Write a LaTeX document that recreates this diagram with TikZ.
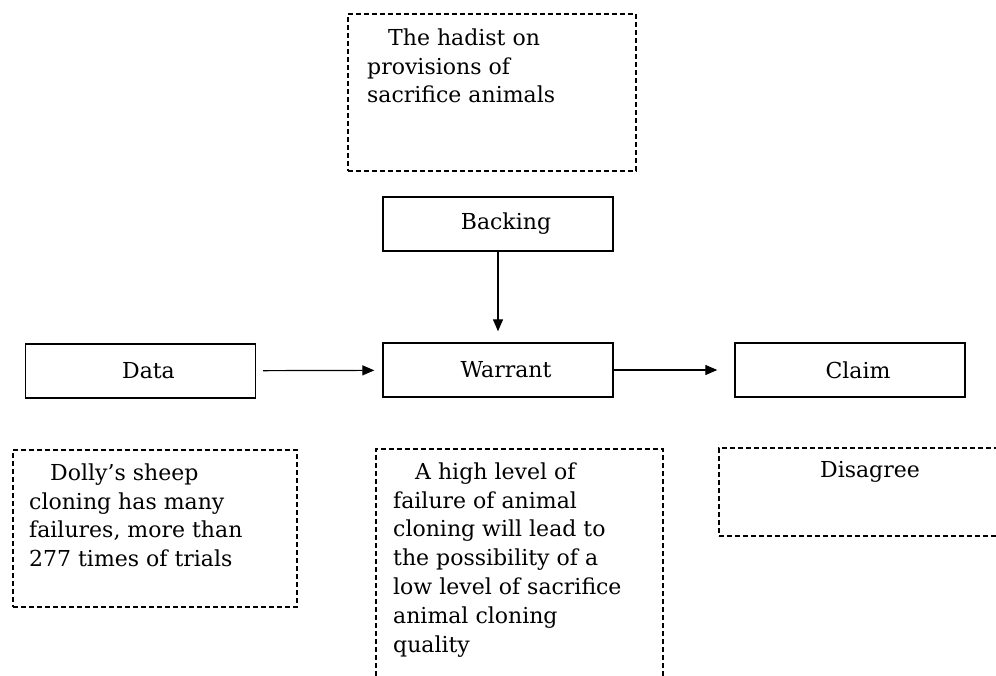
\documentclass[tikz,border=0pt]{standalone}
\usepackage{fontspec}
\setmainfont{DejaVu Serif}
\usetikzlibrary{arrows.meta,positioning}

\begin{document}
\begin{tikzpicture}[
  x=1pt, y=-1pt,
  >={Triangle[length=12pt,width=10pt]},
  box/.style={draw, line width=1.4pt, minimum width=230pt, minimum height=54pt, font=\fontsize{22}{28.8}\selectfont, execute at begin node=\hspace*{16pt}},
  note/.style={draw, line width=1.5pt, dash pattern=on 5pt off 3pt, anchor=north west, inner sep=0pt},
  notetxt/.style={anchor=north west, align=left, inner sep=0pt, font=\fontsize{22}{28.8}\selectfont},
  arr/.style={->, line width=1.2pt},
]
\useasboundingbox (0,0) rectangle (996,675);
\clip (0,0) rectangle (996,675);

% main elements
\node[box] (backing) at (498,224) {Backing};
\node[box] (data) at (140.5,371) {Data};
\node[box] (warrant) at (498,370) {Warrant};
\node[box] (claim) at (850,370) {Claim};

\draw[arr, shorten >=11pt] (backing) -- (warrant);
\draw[arr, shorten <=7pt, shorten >=8pt] (data) -- (warrant);
\draw[arr, shorten >=17pt] (warrant) -- (claim);

% dashed notes
\node[note, minimum width=288pt, minimum height=157pt] (hadistbox) at (347,13) {};
\node[notetxt] (hadist) at (367,28.3) {\hspace*{21pt}The hadist on\\provisions of\\sacrifice animals};

\node[note, minimum width=284pt, minimum height=157pt] (dollybox) at (12,449) {};
\node[notetxt] (dolly) at (29,463.3) {\hspace*{21pt}Dolly's sheep\\cloning has many\\failures, more than\\277 times of trials};

\node[note, minimum width=287pt, minimum height=260pt] (failurebox) at (375,448) {};
\node[notetxt] (failure) at (393,462.3) {\hspace*{22pt}A high level of\\failure of animal\\cloning will lead to\\the possibility of a\\low level of sacrifice\\animal cloning\\quality};

\node[note, minimum width=300pt, minimum height=88pt] (disagreebox) at (718,447) {};
\node[anchor=base, inner sep=0pt, font=\fontsize{22}{28.8}\selectfont] (disagree) at (870,477) {Disagree};

\end{tikzpicture}
\end{document}
